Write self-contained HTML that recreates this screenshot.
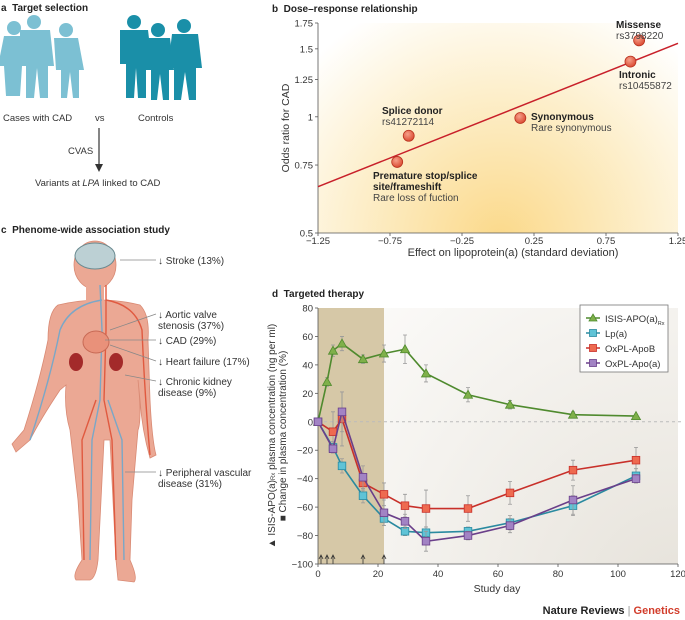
<!DOCTYPE html>
<html><head><meta charset="utf-8"><style>
body{margin:0;background:#fff;}
svg{display:block;font-family:"Liberation Sans",sans-serif;}
</style></head><body>
<svg id="fig" width="685" height="620" viewBox="0 0 685 620">
<defs>
<radialGradient id="gy" cx="500" cy="240" r="260" gradientUnits="userSpaceOnUse">
<stop offset="0" stop-color="#fbd98a"/><stop offset="0.6" stop-color="#fdf0cf"/><stop offset="1" stop-color="#ffffff"/></radialGradient>
<radialGradient id="gg" cx="680" cy="600" r="420" gradientUnits="userSpaceOnUse">
<stop offset="0" stop-color="#e6e2da"/><stop offset="1" stop-color="#fbfaf8"/></radialGradient>
<radialGradient id="dot" cx="0.4" cy="0.35" r="0.7"><stop offset="0" stop-color="#f6a08a"/><stop offset="1" stop-color="#d9452d"/></radialGradient>
</defs>

<!-- Panel a -->
<g>
<text x="1" y="11" font-size="10" font-weight="bold" fill="#222">a&#160;&#160;Target selection</text>
<g fill="#7cc0d3">
<circle cx="14" cy="28" r="7"/><path d="M4 36 h20 l4 30 h-6 l-2 30 h-14 l-2-30 h-6z"/>
<circle cx="34" cy="22" r="7"/><path d="M20 30 h30 l4 36 h-6 v32 h-8 l-3-30 -3 30 h-8 v-32 h-6z"/>
<circle cx="66" cy="30" r="7"/><path d="M54 38 h24 l6 32 h-5 v28 h-6 l-3-26 -3 26 h-6 v-28 h-5z"/>
</g>
<g fill="#1a8fa8">
<circle cx="134" cy="22" r="7"/><path d="M120 30 h28 l4 34 h-6 v34 h-8 l-2-30 -2 30 h-8 v-34 h-6z"/>
<circle cx="158" cy="30" r="7"/><path d="M146 38 h24 l4 32 h-5 v30 h-6 l-3-26 -3 26 h-6 v-30 h-5z"/>
<circle cx="184" cy="26" r="7"/><path d="M172 34 h26 l4 34 h-6 v32 h-7 l-4-28 -4 28 h-7 v-32 h-6z"/>
</g>
<text x="3" y="121" font-size="9.5" fill="#333">Cases with CAD</text>
<text x="95" y="121" font-size="9.5" fill="#333">vs</text>
<text x="138" y="121" font-size="9.5" fill="#333">Controls</text>
<line x1="99" y1="128" x2="99" y2="166" stroke="#333" stroke-width="1.2"/>
<path d="M95 164 L99 172 L103 164z" fill="#333"/>
<text x="68" y="154" font-size="9.5" fill="#333">CVAS</text>
<text x="35" y="186" font-size="9.5" fill="#333">Variants at <tspan font-style="italic">LPA</tspan> linked to CAD</text>
</g>

<!-- Panel c -->
<g>
<text x="1" y="233" font-size="10" font-weight="bold" fill="#222">c&#160;&#160;Phenome-wide association study</text>
<g fill="#eba894" stroke="#d98a74" stroke-width="0.8">
<path d="M58 305 Q100 295 140 305 Q150 315 148 340 L150 400 Q152 440 156 455 L150 458 Q142 430 140 400 L138 380 Q142 420 138 430 L132 500 L130 560 Q138 578 134 582 L118 580 L116 560 L110 440 L104 440 L98 560 Q96 578 90 580 L76 580 Q72 575 82 560 L78 500 L70 430 Q64 410 66 385 L60 390 Q40 420 30 440 L16 452 L12 444 L24 430 Q40 380 48 340 Q48 312 58 305z"/>
<ellipse cx="95" cy="265" rx="21" ry="24"/>
<path d="M86 285 h18 v22 h-18z" stroke="none"/>
</g>
<ellipse cx="95" cy="256" rx="20" ry="13" fill="#bcd0d4" stroke="#6a8a90"/>
<g fill="none" stroke-width="1.4">
<path d="M100 285 L102 330 L100 400 L92 440 L90 560" stroke="#7aa7c7"/>
<path d="M106 285 L106 330 L104 400 L112 440 L116 560" stroke="#e05a40"/>
<path d="M102 300 Q70 305 60 330 Q50 380 30 440" stroke="#7aa7c7"/>
<path d="M106 300 Q135 305 142 330 Q145 400 150 455" stroke="#e05a40"/>
<path d="M96 400 L82 440 L84 560" stroke="#e05a40"/>
<path d="M108 400 L122 440 L124 560" stroke="#7aa7c7"/>
</g>
<ellipse cx="96" cy="342" rx="13" ry="11" fill="#e9917a" stroke="#c86a55"/>
<ellipse cx="76" cy="362" rx="7" ry="9" fill="#a32a2a"/>
<ellipse cx="116" cy="362" rx="7" ry="9" fill="#a32a2a"/>
<g stroke="#888" stroke-width="0.8">
<line x1="120" y1="260" x2="156" y2="260"/><line x1="110" y1="330" x2="156" y2="314"/><line x1="105" y1="340" x2="156" y2="340"/><line x1="110" y1="345" x2="156" y2="361"/><line x1="125" y1="375" x2="156" y2="381"/><line x1="125" y1="472" x2="156" y2="472"/>
</g>
<g font-size="10" fill="#333">
<text x="158" y="264">↓ Stroke (13%)</text>
<text x="158" y="318">↓ Aortic valve</text><text x="158" y="329">stenosis (37%)</text>
<text x="158" y="344">↓ CAD (29%)</text>
<text x="158" y="365">↓ Heart failure (17%)</text>
<text x="158" y="385">↓ Chronic kidney</text><text x="158" y="396">disease (9%)</text>
<text x="158" y="476">↓ Peripheral vascular</text><text x="158" y="487">disease (31%)</text>
</g>
</g>

<!-- Panel b -->
<g id="pb">
<text x="272" y="12" font-size="10" font-weight="bold" fill="#222">b&#160;&#160;Dose–response relationship</text>
<rect x="318" y="23" width="360" height="210" fill="url(#gy)"/>
<text transform="translate(289,128) rotate(-90)" text-anchor="middle" font-size="10.5" fill="#333">Odds ratio for CAD</text>
<text x="513" y="256" text-anchor="middle" font-size="11" fill="#333">Effect on lipoprotein(a) (standard deviation)</text>
</g>

<!-- Panel d -->
<g id="pd">
<text x="272" y="297" font-size="10" font-weight="bold" fill="#222">d&#160;&#160;Targeted therapy</text>
<rect x="318" y="308" width="360" height="256" fill="url(#gg)"/>
<text transform="translate(275,436) rotate(-90)" text-anchor="middle" font-size="10" fill="#333">▲ ISIS-APO(a)<tspan font-size="6">Rx</tspan> plasma concentration (ng per ml)</text>
<text transform="translate(286,436) rotate(-90)" text-anchor="middle" font-size="10" fill="#333">■ Change in plasma concentration (%)</text>
<text x="497" y="592" text-anchor="middle" font-size="10.5" fill="#333">Study day</text>
</g>

<text x="680" y="614" text-anchor="end" font-size="11" font-weight="bold" fill="#222">Nature Reviews <tspan fill="#999" font-weight="normal">|</tspan> <tspan fill="#d23c2a">Genetics</tspan></text>
</svg>
<script>
const NS="http://www.w3.org/2000/svg";
// Panel b data
const bLabels=["Missense","Intronic","Synonymous","Splice donor","Premature stop"];
const bX=[0.98,0.92,0.155,-0.62,-0.70];
const bY=[1.578,1.39,0.993,0.893,0.764];
const bXTicks=[-1.25,-0.75,-0.25,0.25,0.75,1.25];
const bYTicks=[0.5,0.75,1,1.25,1.5,1.75];
const bFitX=[-1.25,1.25];
const bFitY=[0.659,1.55];
// Panel d data
const dDays=[0,3,5,8,15,22,29,36,50,64,85,106];
const dDaysB=[0,5,8,15,22,29,36,50,64,85,106];
const dIsis=[0,28,50,55,44,48,51,34,19,12,5,4];
const dIsisErr=[0,3,4,5,3,6,10,6,5,3,2,0];
const dLpa=[0,-18,-31,-52,-68,-77,-78,-77,-71,-59,-38];
const dLpaErr=[0,4,5,5,5,3,4,3,5,7,5];
const dOxB=[0,-7,2,-43,-51,-59,-61,-61,-50,-34,-27];
const dOxBErr=[0,14,19,5,8,8,13,9,8,7,9];
const dOxA=[0,-19,7,-39,-64,-70,-84,-80,-73,-55,-40];
const dOxAErr=[0,3,14,8,9,5,7,3,5,10,3];
const dXTicks=[0,20,40,60,80,100,120];
const dYTicks=[-100,-80,-60,-40,-20,0,20,40,60,80];
const dDoseDays=[1,3,5,15,22];

function el(tag,attrs,parent){const e=document.createElementNS(NS,tag);for(const k in attrs)e.setAttribute(k,attrs[k]);parent.appendChild(e);return e;}
const pb=document.getElementById('pb'), pd=document.getElementById('pd');
// b scales
const bx=v=>318+(v+1.25)/2.5*360;
const by=v=>23+(Math.log(1.75)-Math.log(v))/(Math.log(1.75)-Math.log(0.5))*210;
let ax=el('line',{x1:318,y1:23,x2:318,y2:233,stroke:'#555','stroke-width':0.8},pb);


ax=el('line',{x1:318,y1:233,x2:678,y2:233,stroke:'#555','stroke-width':0.8},pb);


bXTicks.forEach(t=>{el('line',{x1:bx(t),y1:233,x2:bx(t),y2:236,stroke:'#555','stroke-width':0.8},pb);
 const tx=el('text',{x:bx(t),y:244,'text-anchor':'middle','font-size':9.5,fill:'#333'},pb);tx.textContent=(t<0?'−':'')+Math.abs(t);
 
 });
bYTicks.forEach(t=>{el('line',{x1:315,y1:by(t),x2:318,y2:by(t),stroke:'#555','stroke-width':0.8},pb);
 const tx=el('text',{x:313,y:by(t)+3.5,'text-anchor':'end','font-size':9.5,fill:'#333'},pb);tx.textContent=String(t);
 
 });
const fit=el('line',{x1:bx(bFitX[0]),y1:by(bFitY[0]),x2:bx(bFitX[1]),y2:by(bFitY[1]),stroke:'#c8202a','stroke-width':1.5},pb);


bX.forEach((v,i)=>{const c=el('circle',{cx:bx(v),cy:by(bY[i]),r:5.5,fill:'url(#dot)',stroke:'#b8321f','stroke-width':0.8},pb);
 
 });
const bAnn=[["Missense",616,28,1],["rs3798220",616,39,0],["Intronic",619,78,1],["rs10455872",619,89,0],["Synonymous",531,120,1],["Rare synonymous",531,131,0],["Splice donor",382,114,1],["rs41272114",382,125,0],["Premature stop/splice",373,179,1],["site/frameshift",373,190,1],["Rare loss of fuction",373,201,0]];
bAnn.forEach(a=>{const t=el('text',{x:a[1],y:a[2],'font-size':10,fill:a[3]?'#222':'#444','font-weight':a[3]?'bold':'normal'},pb);t.textContent=a[0];
 
 });
// d scales
const dx=v=>318+v/120*360;
const dy=v=>308+(80-v)/180*256;
const shade=el('rect',{x:dx(0),y:dy(80),width:dx(22)-dx(0),height:dy(-100)-dy(80),fill:'#d6c8a7'},pd);


const zl=el('line',{x1:dx(0),y1:dy(0),x2:683,y2:dy(0),stroke:'#bbb','stroke-dasharray':'3,3'},pd);


ax=el('line',{x1:dx(0),y1:dy(80),x2:dx(0),y2:dy(-100),stroke:'#555','stroke-width':0.8},pd);


ax=el('line',{x1:dx(0),y1:dy(-100),x2:dx(120),y2:dy(-100),stroke:'#555','stroke-width':0.8},pd);


dXTicks.forEach(t=>{el('line',{x1:dx(t),y1:dy(-100),x2:dx(t),y2:dy(-100)+3,stroke:'#555','stroke-width':0.8},pd);
 const tx=el('text',{x:dx(t),y:dy(-100)+13,'text-anchor':'middle','font-size':9.5,fill:'#333'},pd);tx.textContent=String(t);
 
 });
dYTicks.forEach(t=>{el('line',{x1:dx(0)-3,y1:dy(t),x2:dx(0),y2:dy(t),stroke:'#555','stroke-width':0.8},pd);
 const tx=el('text',{x:dx(0)-5,y:dy(t)+3.5,'text-anchor':'end','font-size':9.5,fill:'#333'},pd);tx.textContent=(t<0?'−':'')+Math.abs(t);
 
 });
dDoseDays.forEach(d=>{const a=el('path',{d:`M${dx(d)} ${dy(-100)} V${dy(-100)-8} M${dx(d)-2} ${dy(-100)-5} L${dx(d)} ${dy(-100)-9} L${dx(d)+2} ${dy(-100)-5}`,stroke:'#333',fill:'none','stroke-width':0.8},pd);
 
 });
function series(name,days,vals,errs,stroke,fill,shape){
 const g=el('g',{},pd);
 
 
 days.forEach((d,i)=>{if(errs[i]>0){const x=dx(d);el('path',{d:`M${x} ${dy(vals[i]-errs[i])} V${dy(vals[i]+errs[i])} M${x-2} ${dy(vals[i]+errs[i])} h4 M${x-2} ${dy(vals[i]-errs[i])} h4`,stroke:'#999','stroke-width':0.8,fill:'none'},g);}});
 el('polyline',{points:days.map((d,i)=>dx(d)+','+dy(vals[i])).join(' '),fill:'none',stroke:stroke,'stroke-width':1.6},g);
 days.forEach((d,i)=>{const x=dx(d),y=dy(vals[i]);let m;
  if(shape==='tri')m=el('path',{d:`M${x} ${y-4.5} L${x+4.5} ${y+3.5} L${x-4.5} ${y+3.5}z`,fill:fill,stroke:stroke,'stroke-width':0.8},g);
  else m=el('rect',{x:x-3.8,y:y-3.8,width:7.6,height:7.6,fill:fill,stroke:stroke,'stroke-width':0.8},g);
  
  });
}
series('isis-apoa',dDays,dIsis,dIsisErr,'#4f8a2e','#7fb04a','tri');
series('oxpl-apob',dDaysB,dOxB,dOxBErr,'#c8302a','#ee6a50','sq');
series('lpa',dDaysB,dLpa,dLpaErr,'#2a8aa0','#5fc3d6','sq');
series('oxpl-apoa',dDaysB,dOxA,dOxAErr,'#6a3f8a','#a283c4','sq');
// legend
const lg=el('g',{},pd);


el('rect',{x:580,y:305,width:88,height:67,fill:'#fff',stroke:'#777','stroke-width':0.8},lg);
const legItems=[["ISIS-APO(a)","#4f8a2e","#7fb04a","tri"],["Lp(a)","#2a8aa0","#5fc3d6","sq"],["OxPL-ApoB","#c8302a","#ee6a50","sq"],["OxPL-Apo(a)","#6a3f8a","#a283c4","sq"]];
legItems.forEach((it,i)=>{const y=318+i*15;
 el('line',{x1:586,y1:y,x2:600,y2:y,stroke:it[1],'stroke-width':1.5},lg);
 if(it[3]==='tri')el('path',{d:`M593 ${y-4} L597 ${y+3} L589 ${y+3}z`,fill:it[2],stroke:it[1],'stroke-width':0.8},lg);
 else el('rect',{x:589.5,y:y-3.5,width:7,height:7,fill:it[2],stroke:it[1],'stroke-width':0.8},lg);
 const t=el('text',{x:605,y:y+4,'font-size':9.5,fill:'#333'},lg);t.textContent=it[0];
 if(i===0){const s=el('tspan',{'font-size':5.5,dy:3},t);s.textContent='Rx';}
 
 });
</script>
</body></html>
